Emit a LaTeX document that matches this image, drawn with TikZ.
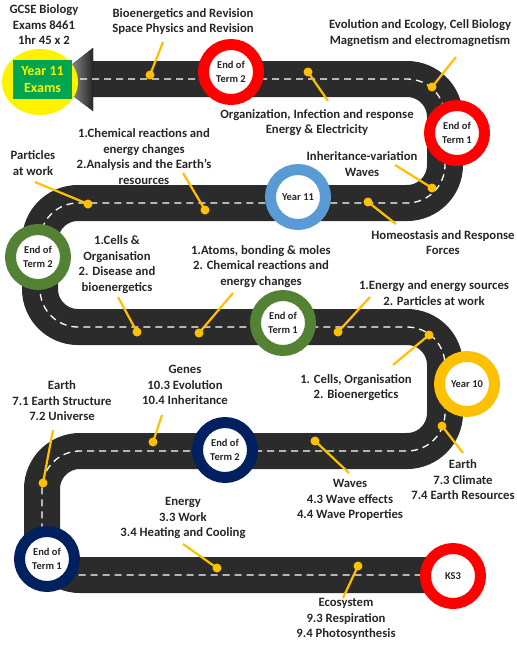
\documentclass[tikz,border=0pt]{standalone}
\usepackage{fontspec}
\setmainfont{Carlito}
\usetikzlibrary{shapes.geometric}
\definecolor{roadc}{HTML}{2B2B2B}
\definecolor{gold}{HTML}{FFC000}
\definecolor{ringred}{HTML}{FF0000}
\definecolor{ringblue}{HTML}{5B9BD5}
\definecolor{ringgreen}{HTML}{548235}
\definecolor{ringnavy}{HTML}{002060}
\definecolor{exgreen}{HTML}{00A550}
\definecolor{txt}{HTML}{262626}
\begin{document}
\begin{tikzpicture}[x=1pt,y=-1pt,
  lbl/.style={align=center,font=\bfseries\fontsize{12.7}{15.5}\selectfont,inner sep=0pt,text=txt},
  ring/.style={circle,draw=#1,line width=11pt,fill=white,minimum size=55pt,inner sep=0pt,align=center,font=\bfseries\fontsize{10.5}{13.5}\selectfont,text=txt},
  conn/.style={draw=gold,line width=2.2pt},
  dot/.style={circle,fill=gold,minimum size=9pt,inner sep=0pt},
  roadline/.style={draw=roadc,line width=36pt,rounded corners=38pt},
  centreline/.style={draw=white,line width=1.3pt,dash pattern=on 7pt off 5pt,rounded corners=38pt},
]
\useasboundingbox (0,0) rectangle (517,646);
% road
\draw[roadline] (93,79) -- (445,79) -- (445,203) -- (40,203) -- (40,327) -- (445,327) -- (445,451) -- (42,451) -- (42,575) -- (440,575);
% arrow head
\fill[left color=black!12,right color=black!85] (93,48) -- (93,111) -- (52,80) -- cycle;
\draw[centreline] (80,79) -- (445,79) -- (445,203) -- (40,203) -- (40,327) -- (445,327) -- (445,451) -- (42,451) -- (42,575) -- (423,575);
% exams
\node[ellipse,fill=yellow,minimum width=76pt,minimum height=66pt,inner sep=0pt] (ell) at (40,82) {};
\node[fill=exgreen,minimum width=59pt,minimum height=39pt,inner sep=0pt,text=yellow,align=center,font=\bfseries\fontsize{14}{16.5}\selectfont] (exams) at (42.5,79.5) {Year 11\\Exams};
\node[lbl] (gcse) at (44,25) {GCSE Biology\\Exams 8461\\1hr 45 x 2};
% rings
\node[ring=ringred] (r1) at (231,72) {End of\\Term 2};
\node[ring=ringred] (r2) at (457,133) {End of\\Term 1};
\node[ring=ringblue] (r3) at (298,197) {Year 11};
\node[ring=ringgreen] (r4) at (38,257) {End of\\Term 2};
\node[ring=ringgreen] (r5) at (283,323) {End of\\Term 1};
\node[ring=gold] (r6) at (467,384) {Year 10};
\node[ring=ringnavy] (r7) at (225,450) {End of\\Term 2};
\node[ring=ringnavy] (r8) at (47,559) {End of\\Term 1};
\node[ring=ringred] (r9) at (453,576) {KS3};
% labels
\node[lbl] (l1) at (183,21.5) {Bioenergetics and Revision\\Space Physics and Revision};
\node[lbl] (l2) at (420,33) {Evolution and Ecology, Cell Biology\\Magnetism and electromagnetism};
\node[lbl] (l3) at (317,122.5) {Organization, Infection and response\\Energy \& Electricity};
\node[lbl] (l4) at (362,164) {Inheritance-variation\\Waves};
\node[lbl] (l5) at (443,242.5) {Homeostasis and Response\\Forces};
\node[lbl] (l6) at (33,163) {Particles\\at work};
\node[lbl] (l7) at (144,156.5) {1.Chemical reactions and\\energy changes\\2.Analysis and the Earth’s\\resources};
\node[lbl] (l8) at (117,264.5) {1.Cells \&\\Organisation\\2. Disease and\\bioenergetics};
\node[lbl] (l9) at (261,266.5) {1.Atoms, bonding \& moles\\2. Chemical reactions and\\energy changes};
\node[lbl] (l10) at (434,293) {1.Energy and energy sources\\2. Particles at work};
\node[lbl] (l11) at (356,387.5) {1. Cells, Organisation\\2. Bioenergetics};
\node[lbl] (l12) at (463,480) {Earth\\7.3 Climate\\7.4 Earth Resources};
\node[lbl] (l13) at (350,500) {Waves\\4.3 Wave effects\\4.4 Wave Properties};
\node[lbl] (l14) at (185,385) {Genes\\10.3 Evolution\\10.4 Inheritance};
\node[lbl] (l15) at (62,401) {Earth\\7.1 Earth Structure\\7.2 Universe};
\node[lbl] (l16) at (183,518) {Energy\\3.3 Work\\3.4 Heating and Cooling};
\node[lbl] (l17) at (346,619) {Ecosystem\\9.3 Respiration\\9.4 Photosynthesis};
% connector ends
\coordinate (c1) at (163,42);   \coordinate (d1) at (150,75);
\coordinate (c2) at (456,57);   \coordinate (d2) at (432,87);
\coordinate (c3) at (328,101);  \coordinate (d3) at (308,72);
\coordinate (c4) at (395,165);  \coordinate (d4) at (432,188);
\coordinate (c5) at (396,224);  \coordinate (d5) at (368,202);
\coordinate (c6) at (35,182);   \coordinate (d6) at (88,204);
\coordinate (c7) at (183,173);  \coordinate (d7) at (205,210);
\coordinate (c8) at (118,297);  \coordinate (d8) at (137,332);
\coordinate (c9) at (233,293);  \coordinate (d9) at (199,333);
\coordinate (c10) at (370,297); \coordinate (d10) at (338,332);
\coordinate (c11) at (393,365); \coordinate (d11) at (429,335);
\coordinate (c12) at (463,453); \coordinate (d12) at (442,426);
\coordinate (c13) at (349,473); \coordinate (d13) at (315,441);
\coordinate (c14) at (162,415); \coordinate (d14) at (153,442);
\coordinate (c15) at (53,430);  \coordinate (d15) at (43,483);
\coordinate (c16) at (183,544); \coordinate (d16) at (217,568);
\coordinate (c17) at (343,598); \coordinate (d17) at (358,566);
\foreach \i in {1,...,17}{
  \draw[conn] (c\i) -- (d\i);
  \node[dot] (p\i) at (d\i) {};
}
\end{tikzpicture}
\end{document}
